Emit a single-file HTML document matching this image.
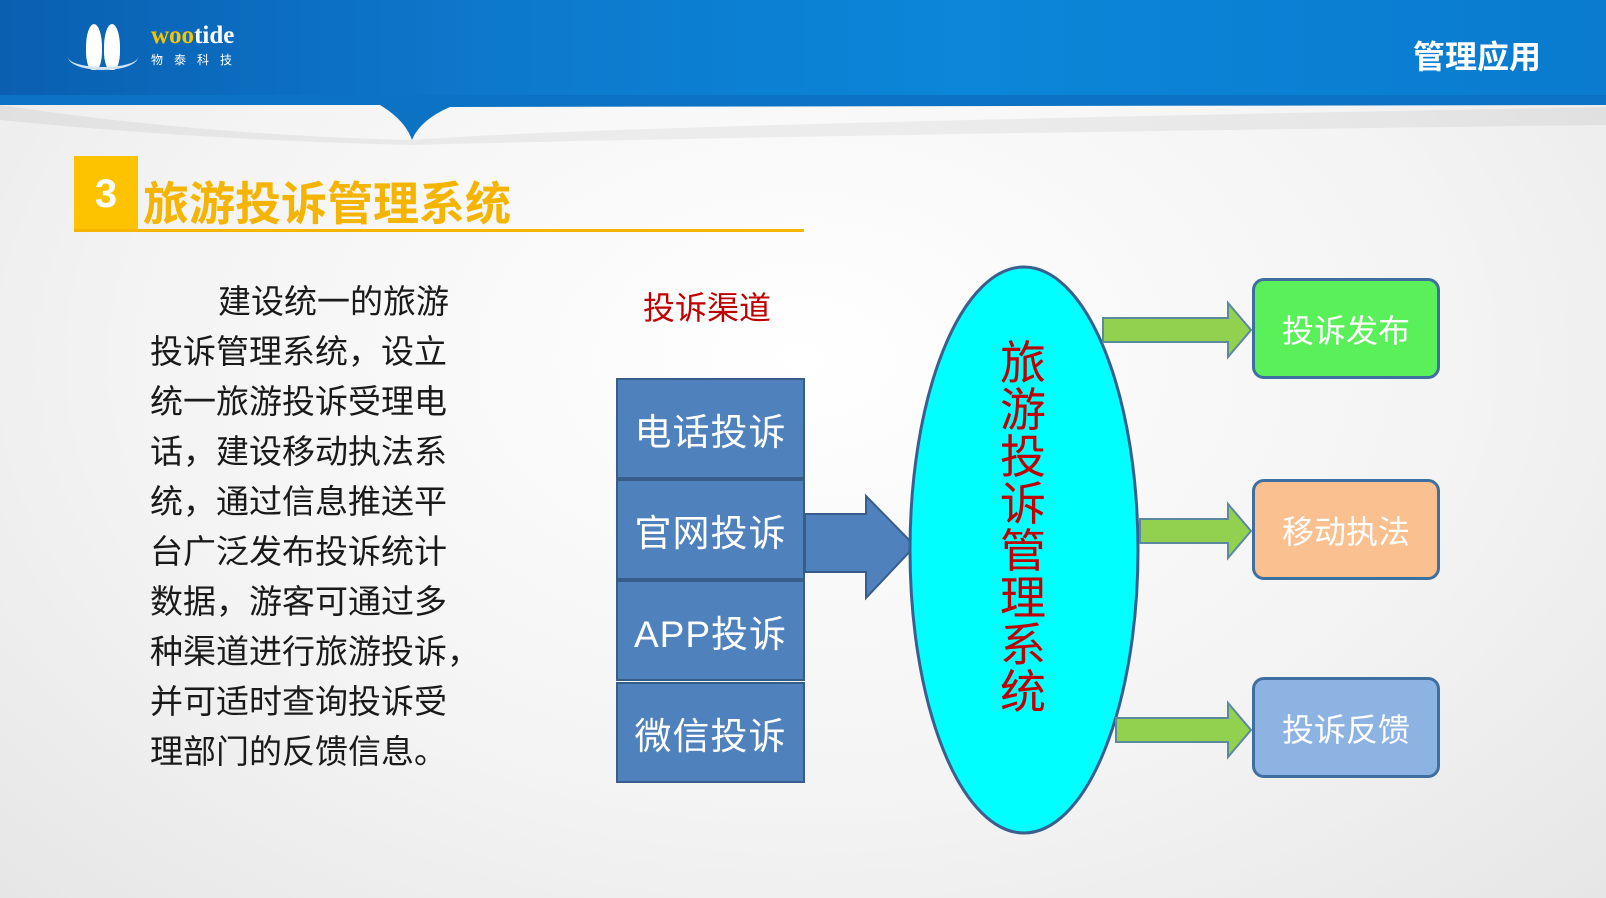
<!DOCTYPE html>
<html><head><meta charset="utf-8"><style>
*{margin:0;padding:0;box-sizing:border-box}
body{width:1606px;height:898px;overflow:hidden;position:relative;background:radial-gradient(ellipse at 50% 40%,#ffffff 0%,#f3f3f3 60%,#e6e6e6 100%);font-family:"Liberation Sans","Noto Sans CJK SC",sans-serif}
.abs{position:absolute}
.hdr{left:0;top:0;width:1606px;height:105px;background:linear-gradient(90deg,#0a5fb0 0%,#0d78cc 30%,#0c86d8 60%,#0a7bcf 100%)}
.box{position:absolute;left:616px;width:189px;height:101px;background:#4f81bd;border:2px solid #385d8a;color:#fff;font-size:37px;display:flex;align-items:center;justify-content:center;letter-spacing:1px}
.rb{position:absolute;left:1252px;width:188px;height:101px;border:3px solid #3f6fa0;border-radius:12px;color:#fff;font-size:32px;display:flex;align-items:center;justify-content:center}
.para{left:150px;top:277px;font-size:33px;line-height:50px;color:#1a1a1a;white-space:nowrap}
</style></head><body>
<div class="abs hdr"></div>
<svg class="abs" style="left:0;top:95px" width="1606" height="60"><path d="M0,10 L380,10 Q405,25 412,45 Q420,25 450,12 L1606,10 L1606,0 L0,0Z" fill="#0c72c4"/><path d="M0,10 Q200,40 412,45 Q600,30 1606,12 L1606,30 Q800,40 412,50 Q200,45 0,25Z" fill="#000" opacity="0.05"/></svg>
<div class="abs" style="left:68px;top:24px;width:70px;height:48px">
<div class="abs" style="left:18px;top:0;width:16px;height:46px;background:#fff;border-radius:50% 50% 40% 40%"></div>
<div class="abs" style="left:36px;top:0;width:16px;height:46px;background:#fff;border-radius:50% 50% 40% 40%"></div>
<div class="abs" style="left:0;top:20px;width:70px;height:26px;border-bottom:3px solid #cfe3f5;border-radius:0 0 50% 50%"></div>
</div>
<div class="abs" style="left:151px;top:22px;font-family:'Liberation Serif',serif;font-weight:bold;font-size:25px;color:#f5c400">woo<span style="color:#fff">tide</span></div>
<div class="abs" style="left:151px;top:51px;font-size:12px;color:#fff;letter-spacing:11px">物泰科技</div>
<div class="abs" style="left:1413px;top:32px;font-size:32px;font-weight:bold;color:#fff">管理应用</div>
<div class="abs" style="left:74px;top:156px;width:64px;height:76px;background:#fdc300;color:#fff;font-size:40px;font-weight:bold;display:flex;align-items:center;justify-content:center">3</div>
<div class="abs" style="left:143px;top:168px;font-size:46px;font-weight:bold;color:#f5b400;letter-spacing:0px;white-space:nowrap">旅游投诉管理系统</div>
<div class="abs" style="left:74px;top:229px;width:730px;height:3px;background:#f5b400"></div>
<div class="abs para"><span style="padding-left:68px"></span>建设统一的旅游<br>投诉管理系统，设立<br>统一旅游投诉受理电<br>话，建设移动执法系<br>统，通过信息推送平<br>台广泛发布投诉统计<br>数据，游客可通过多<br>种渠道进行旅游投诉，<br>并可适时查询投诉受<br>理部门的反馈信息。</div>
<div class="abs" style="left:643px;top:283px;font-size:32px;color:#c00000">投诉渠道</div>
<div class="box" style="top:378px">电话投诉</div>
<div class="box" style="top:479px">官网投诉</div>
<div class="box" style="top:580px">APP投诉</div>
<div class="box" style="top:682px">微信投诉</div>
<svg class="abs" style="left:0;top:0" width="1606" height="898">
<path d="M805,514 L866,514 L866,496 L915,546 L866,598 L866,572 L805,572Z" fill="#4f81bd" stroke="#385d8a" stroke-width="2"/>
<ellipse cx="1024" cy="550" rx="114" ry="283" fill="#00ffff" stroke="#3a5f8f" stroke-width="3"/>
<g fill="#92d050" stroke="#5b8a9f" stroke-width="2">
<path d="M1103,318 L1228,318 L1228,303 L1251,330 L1228,357 L1228,342 L1103,342Z"/>
<path d="M1140,519 L1228,519 L1228,504 L1251,531 L1228,558 L1228,543 L1140,543Z"/>
<path d="M1116,718 L1228,718 L1228,703 L1251,730 L1228,757 L1228,742 L1116,742Z"/>
</g></svg>
<div class="abs" style="left:998px;top:340px;width:50px;font-size:46px;line-height:47px;color:#c00000;text-align:center">旅游投诉管理系统</div>
<div class="rb" style="top:278px;background:#5af05a">投诉发布</div>
<div class="rb" style="top:479px;background:#fac090">移动执法</div>
<div class="rb" style="top:677px;background:#8db3e2">投诉反馈</div>
</body></html>
